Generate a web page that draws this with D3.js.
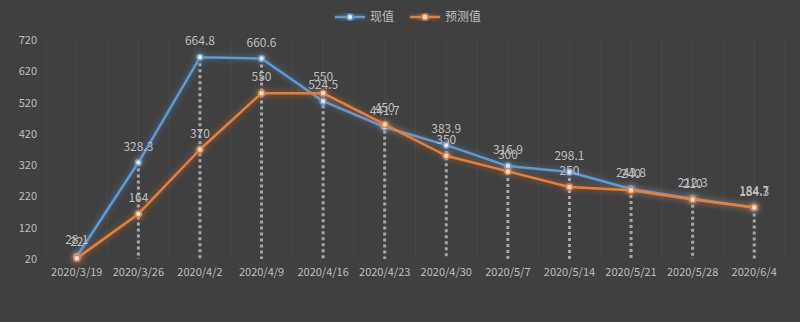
<!DOCTYPE html>
<html>
<head>
<meta charset="utf-8">
<script src="https://cdn.jsdelivr.net/npm/d3@7"></script>
<style>
  html, body { margin: 0; padding: 0; background: #404040; }
  svg { display: block; }
  text { font-family: "Noto Sans CJK SC", "Open Sans", sans-serif; }
</style>
</head>
<body>
<svg id="chart" width="800" height="322"></svg>
<script>
// Weekly dates
const categories = ["2020/3/19", "2020/3/26", "2020/4/2", "2020/4/9", "2020/4/16", "2020/4/23",
                    "2020/4/30", "2020/5/7", "2020/5/14", "2020/5/21", "2020/5/28", "2020/6/4"];
// 现值 (actual values)
const actualValues = [28.1, 328.3, 664.8, 660.6, 524.5, 441.7, 383.9, 316.9, 298.1, 243.8, 212.3, 184.3];
// 预测值 (forecast values)
const forecastValues = [22, 164, 370, 550, 550, 450, 350, 300, 250, 240, 210, 184.7];
const yTicks = [20, 120, 220, 320, 420, 520, 620, 720];
const seriesNames = ["现值", "预测值"];

const W = 800, H = 322;
const margin = { left: 46, right: 15, top: 40, bottom: 63 };
const colors = ["#5b9bd5", "#ed7d31"];
const textColor = "#bfbfbf";

const svg = d3.select("#chart");
svg.append("rect").attr("width", W).attr("height", H).attr("fill", "#404040");

const defs = svg.append("defs");
const glow = defs.append("filter").attr("id", "glow")
  .attr("x", "-10%").attr("y", "-10%").attr("width", "120%").attr("height", "120%");
glow.append("feGaussianBlur").attr("in", "SourceGraphic").attr("stdDeviation", 3).attr("result", "blur");
glow.append("feComponentTransfer").attr("in", "blur").attr("result", "soft")
  .append("feFuncA").attr("type", "linear").attr("slope", 0.6);
const merge = glow.append("feMerge");
merge.append("feMergeNode").attr("in", "soft");
merge.append("feMergeNode").attr("in", "SourceGraphic");

const x = d3.scaleBand().domain(categories).range([margin.left, W - margin.right]);
const y = d3.scaleLinear().domain([20, 720]).range([H - margin.bottom, margin.top]);
const cx = d => x(d) + x.bandwidth() / 2;

// Faint vertical gridlines at category centres and boundaries
const gridXs = [];
categories.forEach(c => { gridXs.push(x(c)); gridXs.push(cx(c)); });
gridXs.push(x(categories[categories.length - 1]) + x.bandwidth());
svg.append("g").selectAll("line").data(gridXs).join("line")
  .attr("x1", d => d).attr("x2", d => d)
  .attr("y1", y(720)).attr("y2", y(20))
  .attr("stroke", "#484848").attr("stroke-width", 1);

// Y axis labels
const yAxis = svg.append("g").attr("transform", `translate(${margin.left - 9},0)`)
  .call(d3.axisLeft(y).tickValues(yTicks).tickSize(0).tickPadding(0));
yAxis.select(".domain").remove();
yAxis.selectAll("text").attr("fill", textColor).style("font-size", "11px");

// X axis labels
const xAxis = svg.append("g").attr("transform", `translate(0,${y(20)})`)
  .call(d3.axisBottom(x).tickSize(0).tickPadding(9));
xAxis.select(".domain").remove();
xAxis.selectAll("text").attr("fill", textColor).style("font-size", "11px");

// Drop lines: one per date, from the higher point down to the axis
const series = [actualValues, forecastValues];
svg.append("g").selectAll("line").data(categories).join("line")
  .attr("x1", d => cx(d)).attr("x2", d => cx(d))
  .attr("y1", (d, i) => y(Math.max(actualValues[i], forecastValues[i])))
  .attr("y2", y(20))
  .attr("stroke", "#a6a6a6").attr("stroke-width", 3)
  .attr("stroke-dasharray", "3,3");

// Lines with markers
const line = d3.line().x((d, i) => cx(categories[i])).y(d => y(d));
series.forEach((vals, s) => {
  const g = svg.append("g").attr("filter", "url(#glow)");
  g.append("path").datum(vals).attr("d", line)
    .attr("fill", "none").attr("stroke", colors[s]).attr("stroke-width", 2.5)
    .attr("stroke-linejoin", "round");
  g.selectAll("circle").data(vals).join("circle")
    .attr("cx", (d, i) => cx(categories[i])).attr("cy", d => y(d)).attr("r", 3)
    .attr("fill", "#e8e8e8").attr("stroke", colors[s]).attr("stroke-width", 1.5);
});

// Data labels
series.forEach(vals => {
  svg.append("g").selectAll("text").data(vals).join("text")
    .attr("x", (d, i) => cx(categories[i])).attr("y", d => y(d) - 12)
    .attr("text-anchor", "middle").attr("fill", textColor)
    .style("font-size", "12px")
    .text(d => d);
});

// Legend
const legend = svg.append("g");
const legendItems = [{ x: 335, w: 30, tx: 370 }, { x: 410, w: 30, tx: 445 }];
legendItems.forEach((it, s) => {
  const lg = legend.append("g").attr("filter", "url(#glow)");
  lg.append("line").attr("x1", it.x).attr("x2", it.x + it.w).attr("y1", 17).attr("y2", 17)
    .attr("stroke", colors[s]).attr("stroke-width", 2.5);
  lg.append("circle").attr("cx", it.x + it.w / 2).attr("cy", 17).attr("r", 3)
    .attr("fill", "#e8e8e8").attr("stroke", colors[s]).attr("stroke-width", 1.5);
  legend.append("text").attr("x", it.tx).attr("y", 21).attr("fill", textColor)
    .style("font-size", "12px").text(seriesNames[s]);
});
</script>
</body>
</html>
